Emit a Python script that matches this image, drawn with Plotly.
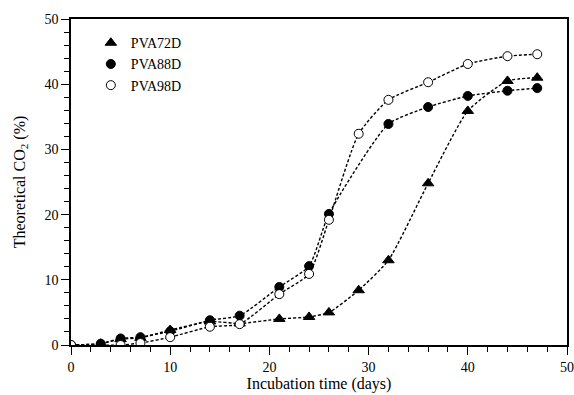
import plotly.graph_objects as go

# Data
days_72 = [0, 3, 5, 7, 10, 14, 17, 21, 24, 26, 29, 32, 36, 40, 44, 47]
co2_72 = [0, 0.2, 0.9, 1.1, 2.3, 3.6, 3.3, 4.0, 4.3, 5.0, 8.4, 13.0, 24.8, 35.9, 40.5, 41.0]

days_88 = [0, 3, 5, 7, 10, 14, 17, 21, 24, 26, 32, 36, 40, 44, 47]
co2_88 = [0, 0.2, 1.0, 1.2, 2.1, 3.8, 4.5, 8.9, 12.1, 20.1, 33.9, 36.5, 38.2, 39.0, 39.4]

days_98 = [0, 5, 7, 10, 14, 17, 21, 24, 26, 29, 32, 36, 40, 44, 47]
co2_98 = [0, 0.0, 0.3, 1.2, 2.8, 3.2, 7.8, 10.9, 19.2, 32.4, 37.6, 40.3, 43.1, 44.3, 44.6]

series = [
    ("PVA72D", days_72, co2_72, "triangle-up", "black"),
    ("PVA88D", days_88, co2_88, "circle", "black"),
    ("PVA98D", days_98, co2_98, "circle", "white"),
]

FONT = "'Times New Roman', 'Liberation Serif', serif"

fig = go.Figure()

# fitted dotted curves (under markers)
for name, xs, ys, sym, fill in series:
    fig.add_trace(go.Scatter(
        x=xs, y=ys, mode="lines", showlegend=False, hoverinfo="skip",
        line=dict(color="black", width=1.4, dash="3px,2px", shape="spline", smoothing=0.55),
    ))

for name, xs, ys, sym, fill in series:
    fig.add_trace(go.Scatter(
        x=xs, y=ys, mode="markers", name=name,
        marker=dict(symbol=sym, size=10 if sym.startswith("tri") else 9, color=fill,
                    line=dict(color="black", width=1)),
    ))

fig.update_layout(
    width=574, height=395,
    margin=dict(l=71, r=7, t=19, b=50, autoexpand=False),
    paper_bgcolor="white", plot_bgcolor="white",
    font=dict(family=FONT, size=14, color="black"),
    legend=dict(x=0.04, y=0.975, xanchor="left", yanchor="top",
                bgcolor="rgba(0,0,0,0)", font=dict(family=FONT, size=14),
                tracegroupgap=0, itemwidth=30),
)

axis_common = dict(
    showgrid=False, zeroline=False, showline=True, linecolor="black",
    linewidth=1.5, mirror=True, ticks="outside", ticklen=8, tickwidth=1.2,
    tickcolor="black", tickfont=dict(family=FONT, size=14), automargin=False,
)

fig.update_xaxes(
    range=[0, 50], dtick=10, tick0=0,
    minor=dict(dtick=2, ticks="outside", ticklen=5, tickwidth=1.2, tickcolor="black"),
    title=dict(text="Incubation time (days)", font=dict(family=FONT, size=16), standoff=4),
    **axis_common,
)
fig.update_yaxes(
    range=[0, 50], dtick=10, tick0=0,
    minor=dict(dtick=2, ticks="outside", ticklen=5, tickwidth=1.2, tickcolor="black"),
    title=dict(text="Theoretical CO<sub>2</sub> (%)", font=dict(family=FONT, size=16), standoff=15),
    **axis_common,
)

fig.write_html("out.html")
